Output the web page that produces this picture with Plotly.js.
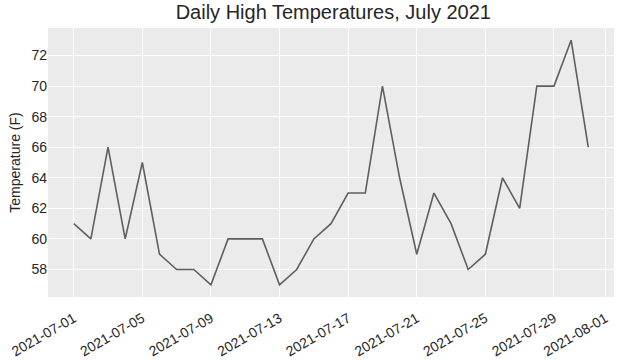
<!DOCTYPE html>
<html>
<head>
<meta charset="utf-8">
<script src="https://cdn.plot.ly/plotly-3.0.1.min.js"></script>
<style>html,body{margin:0;padding:0;background:#fff;}#chart{width:623px;height:360px;}</style>
</head>
<body>
<div id="chart"></div>
<script>
const dates = ["2021-07-01","2021-07-02","2021-07-03","2021-07-04","2021-07-05","2021-07-06","2021-07-07","2021-07-08","2021-07-09","2021-07-10","2021-07-11","2021-07-12","2021-07-13","2021-07-14","2021-07-15","2021-07-16","2021-07-17","2021-07-18","2021-07-19","2021-07-20","2021-07-21","2021-07-22","2021-07-23","2021-07-24","2021-07-25","2021-07-26","2021-07-27","2021-07-28","2021-07-29","2021-07-30","2021-07-31"];
const highs = [61,60,66,60,65,59,58,58,57,60,60,60,57,58,60,61,63,63,70,64,59,63,61,58,59,64,62,70,70,73,66];
const xTickVals = ["2021-07-01","2021-07-05","2021-07-09","2021-07-13","2021-07-17","2021-07-21","2021-07-25","2021-07-29","2021-08-01"];
const yTickVals = [58,60,62,64,66,68,70,72];

const trace = {
  x: dates, y: highs, type: 'scatter', mode: 'lines',
  line: {color: '#5f5f5f', width: 1.6}, hoverinfo: 'skip'
};
const layout = {
  width: 623, height: 360,
  margin: {l: 48, r: 9, t: 28, b: 63},
  paper_bgcolor: '#ffffff', plot_bgcolor: '#ebebeb',
  font: {family: '"Liberation Sans", Arial, sans-serif', color: '#262626', size: 14},
  title: {text: 'Daily High Temperatures, July 2021', x: 0.535, xanchor: 'center', y: 0.985, yanchor: 'top',
          font: {size: 20, color: '#262626'}},
  showlegend: false,
  xaxis: {
    type: 'date', range: ['2021-06-29 12:00', '2021-08-01 12:00'],
    tickmode: 'array', tickvals: xTickVals, ticktext: xTickVals,
    tickangle: -30, tickfont: {size: 14, color: '#262626'},
    showgrid: true, gridcolor: '#ffffff', gridwidth: 1,
    zeroline: false, showline: false, ticks: 'outside', ticklen: 7, tickcolor: 'rgba(0,0,0,0)'
  },
  yaxis: {
    range: [56.2, 73.8], tickmode: 'array', tickvals: yTickVals,
    tickfont: {size: 14, color: '#262626'},
    showgrid: true, gridcolor: '#ffffff', gridwidth: 1,
    zeroline: false, showline: false, ticks: '',
    title: {text: 'Temperature (F)', font: {size: 14, color: '#262626'}, standoff: 7}
  }
};
Plotly.newPlot('chart', [trace], layout, {staticPlot: true, displayModeBar: false});
</script>
</body>
</html>
